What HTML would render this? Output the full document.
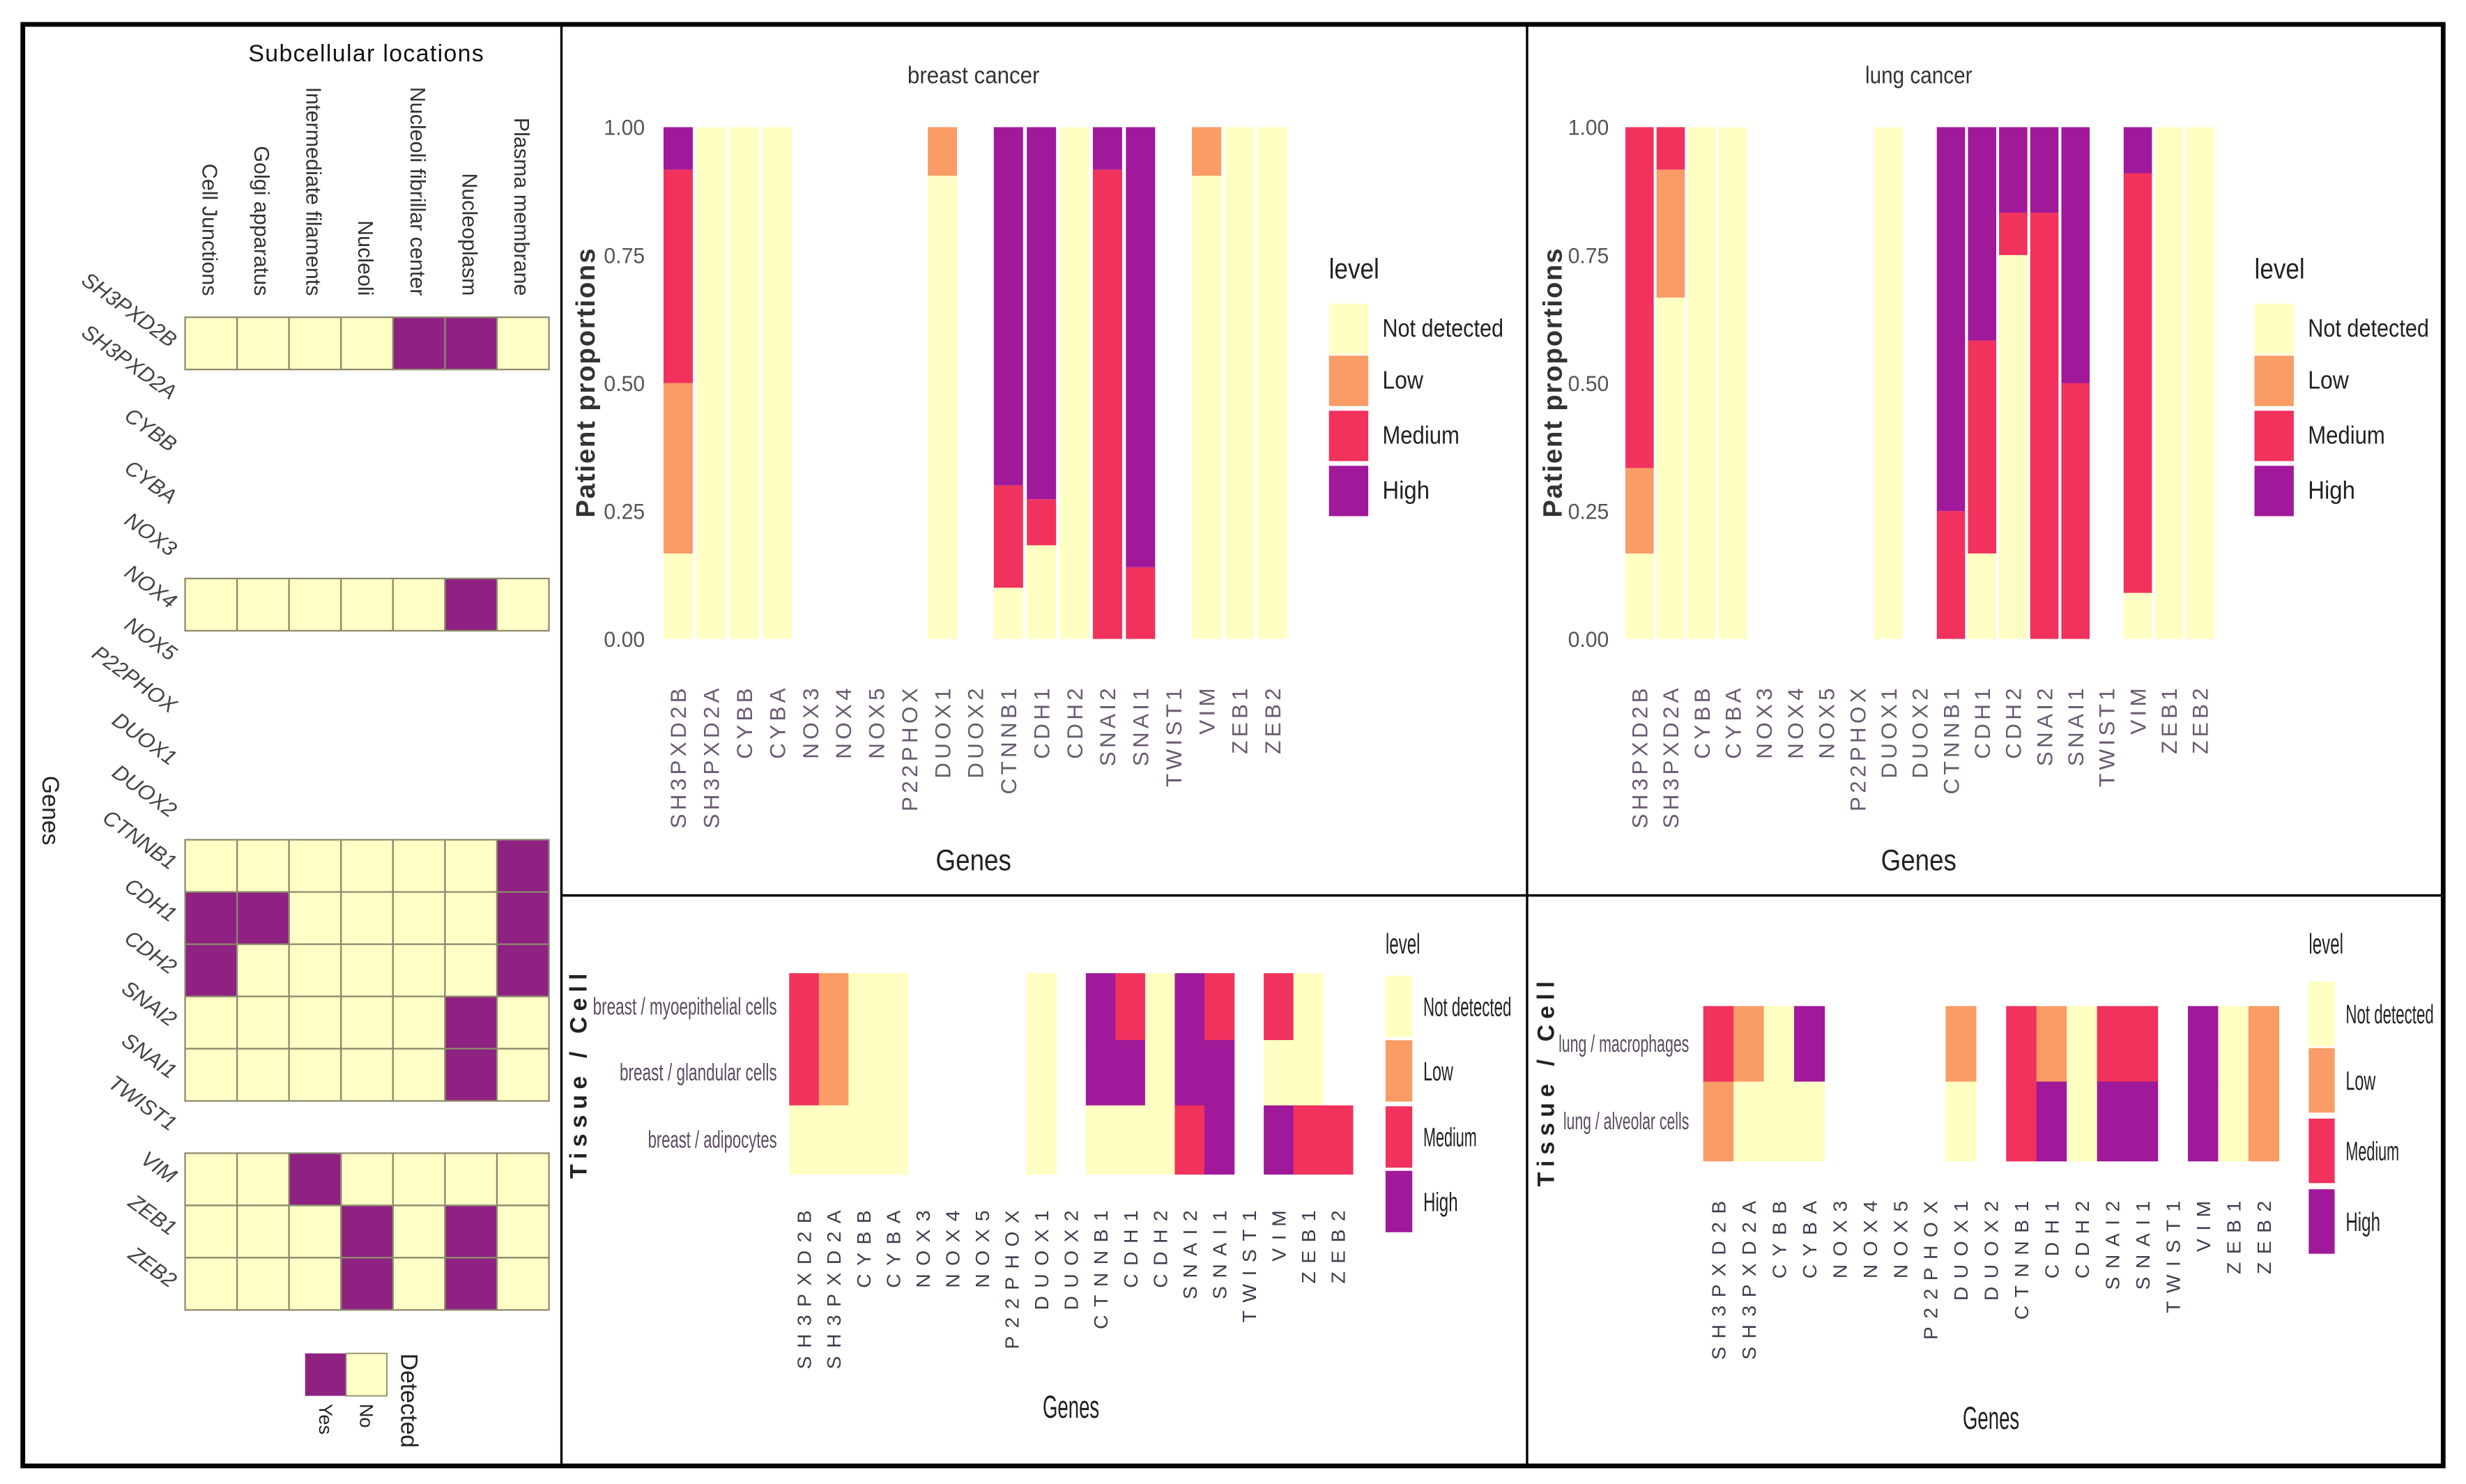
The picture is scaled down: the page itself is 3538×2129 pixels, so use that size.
<!DOCTYPE html>
<html><head><meta charset="utf-8">
<style>
html,body{margin:0;padding:0;background:#fff;}
svg{display:block;font-family:"Liberation Sans",sans-serif;}
</style></head>
<body>
<svg id="fig" width="3538" height="2129" viewBox="0 0 1568 943" preserveAspectRatio="none" xmlns="http://www.w3.org/2000/svg">
<rect x="0" y="0" width="1568" height="943" fill="#fff"/>
<g id="left"></g>
<g id="tb"></g>
<g id="tl"></g>
<g id="bb"></g>
<g id="bl"></g>
<rect x="14.5" y="15.5" width="1539" height="916" fill="none" stroke="#000" stroke-width="3"/>
<line x1="357" y1="15" x2="357" y2="932" stroke="#000" stroke-width="1.5"/>
<line x1="971" y1="15" x2="971" y2="932" stroke="#000" stroke-width="1.5"/>
<line x1="357" y1="569" x2="1553" y2="569" stroke="#000" stroke-width="1.5"/>
</svg>
<script>
const genes = ["SH3PXD2B","SH3PXD2A","CYBB","CYBA","NOX3","NOX4","NOX5","P22PHOX","DUOX1","DUOX2","CTNNB1","CDH1","CDH2","SNAI2","SNAI1","TWIST1","VIM","ZEB1","ZEB2"];
const locations = ["Cell Junctions","Golgi apparatus","Intermediate filaments","Nucleoli","Nucleoli fibrillar center","Nucleoplasm","Plasma membrane"];
// subcellular detection: null = no data row, 1 = Yes, 0 = No
const detected = [
 [0,0,0,0,1,1,0], null, null, null, null,
 [0,0,0,0,0,1,0], null, null, null, null,
 [0,0,0,0,0,0,1],
 [1,1,0,0,0,0,1],
 [1,0,0,0,0,0,1],
 [0,0,0,0,0,1,0],
 [0,0,0,0,0,1,0],
 null,
 [0,0,1,0,0,0,0],
 [0,0,0,1,0,1,0],
 [0,0,0,1,0,1,0]
];
const levels = ["Not detected","Low","Medium","High"];
const yTicks = [0,0.25,0.5,0.75,1];
const yTickLabels = ["0.00","0.25","0.50","0.75","1.00"];
// breast cancer proportions
const breastND   = [0.167,1,1,1,0,0,0,0,0.905,0,0.10,0.183,1,0,0,0,0.905,1,1];
const breastLow  = [0.333,0,0,0,0,0,0,0,0.095,0,0,0,0,0,0,0,0.095,0,0];
const breastMed  = [0.417,0,0,0,0,0,0,0,0,0,0.20,0.09,0,0.917,0.14,0,0,0,0];
const breastHigh = [0.083,0,0,0,0,0,0,0,0,0,0.70,0.727,0,0.083,0.86,0,0,0,0];
// lung cancer proportions
const lungND   = [0.167,0.667,1,1,0,0,0,0,1,0,0,0.167,0.75,0,0,0,0.09,1,1];
const lungLow  = [0.167,0.25,0,0,0,0,0,0,0,0,0,0,0,0,0,0,0,0,0];
const lungMed  = [0.666,0.083,0,0,0,0,0,0,0,0,0.25,0.416,0.083,0.833,0.5,0,0.82,0,0];
const lungHigh = [0,0,0,0,0,0,0,0,0,0,0.75,0.417,0.167,0.167,0.5,0,0.09,0,0];
// tissue levels: -1 none, 0 ND, 1 Low, 2 Medium, 3 High
const breastCells = ["breast / myoepithelial cells","breast / glandular cells","breast / adipocytes"];
const breastMyo    = [2,1,0,0,-1,-1,-1,-1,0,-1,3,2,0,3,2,-1,2,0,-1];
const breastGland  = [2,1,0,0,-1,-1,-1,-1,0,-1,3,3,0,3,3,-1,0,0,-1];
const breastAdipo  = [0,0,0,0,-1,-1,-1,-1,0,-1,0,0,0,2,3,-1,3,2,2];
const lungCells = ["lung / macrophages","lung / alveolar cells"];
const lungMacro = [2,1,0,3,-1,-1,-1,-1,1,-1,2,1,0,2,2,-1,3,0,1];
const lungAlv   = [1,0,0,0,-1,-1,-1,-1,0,-1,2,3,0,3,3,-1,3,0,1];

const COLORS = ["#FFFFC4","#F99C66","#F0325D","#A0199A"];
const NS = "http://www.w3.org/2000/svg";
function mk(parent, tag, attrs, text){
  const e = document.createElementNS(NS, tag);
  for (const k in attrs) e.setAttribute(k, attrs[k]);
  if (text !== undefined) e.textContent = text;
  parent.appendChild(e);
  return e;
}

/* ---------- left heatmap ---------- */
(function(){
  const g = document.getElementById('left');
  const x0 = 117.7, cw = 33.05, y0 = 201.6, rh = 33.2;
  const t = mk(g,'text',{x:233,y:39,'text-anchor':'middle','font-size':15,fill:'#111','letter-spacing':0.6},'Subcellular locations');
  
  
  locations.forEach((loc,j)=>{
    const cx = x0 + cw*(j+0.5) - 5.5;
    const e = mk(g,'text',{x:cx,y:188,'text-anchor':'end','font-size':13.5,fill:'#333',transform:`rotate(90 ${cx} 188)`},loc);
    
    
  });
  genes.forEach((gn,i)=>{
    const cy = y0 + rh*(i+0.5);
    const lx = 108, ly = cy + 3;
    const e = mk(g,'text',{x:lx,y:ly,'text-anchor':'end','font-size':13.5,fill:'#444','font-style':'italic',transform:`rotate(36 ${lx} ${ly})`},gn);
    
    
    const row = detected[i];
    if (!row) return;
    row.forEach((v,j)=>{
      const r = mk(g,'rect',{x:x0+cw*j,y:y0+rh*i,width:cw,height:rh,fill:v?'#8E2182':'#FFFFC6',stroke:'#8d8a6c','stroke-width':1});
      
      
    });
  });
  const gt = mk(g,'text',{x:27,y:515,'text-anchor':'middle','font-size':15,fill:'#222',transform:'rotate(90 27 515)'},'Genes');
  
  
  const ly = mk(g,'rect',{x:194,y:860,width:26,height:27,fill:'#8E2182'});
  
  
  const ln = mk(g,'rect',{x:220,y:860,width:26,height:27,fill:'#FFFFC6',stroke:'#8d8a6c','stroke-width':0.8});
  
  
  [['Yes',203],['No',229]].forEach(([s,x])=>{
    const e = mk(g,'text',{x:x,y:892,'font-size':12,fill:'#222',transform:`rotate(90 ${x} 892)`},s);
    
    
  });
  const dt = mk(g,'text',{x:255,y:860,'font-size':15,fill:'#222',transform:'rotate(90 255 860)'},'Detected');
  
  
})();

/* ---------- stacked bar panels ---------- */
function barPanel(id, P, nd, lo, me, hi, title){
  const g = document.getElementById(id);
  const yPx = v => P.y0 - v*(P.y0-P.y1);
  const xPx = i => P.bx + P.pitch*i;
  const tt = mk(g,'text',{x:P.tx,y:53,'text-anchor':'middle','font-size':15,fill:'#333',textLength:P.tl,lengthAdjust:'spacingAndGlyphs'},title);
  
  
  yTicks.forEach((v,k)=>{
    const e = mk(g,'text',{x:P.yl,y:yPx(v)+5,'text-anchor':'end','font-size':14,fill:'#555',textLength:26,lengthAdjust:'spacingAndGlyphs'},yTickLabels[k]);
    
    
  });
  const yt = mk(g,'text',{x:P.ytx,y:243,'text-anchor':'middle','font-size':17,'font-weight':'bold',fill:'#333','letter-spacing':0.8,transform:`rotate(-90 ${P.ytx} 243)`},'Patient proportions');
  
  
  const series = [nd,lo,me,hi];
  genes.forEach((gn,i)=>{
    let acc = 0;
    series.forEach((s,k)=>{
      const v = s[i];
      if (v>0){
        const r = mk(g,'rect',{x:xPx(i),y:yPx(acc+v),width:P.bw,height:yPx(acc)-yPx(acc+v),fill:COLORS[k]});
        
        
      }
      acc += v;
    });
    const cx = xPx(i)+P.bw/2+5;
    const e = mk(g,'text',{x:cx,y:435,'text-anchor':'end','font-size':14,fill:'#6a5a72','letter-spacing':2.3,transform:`rotate(-90 ${cx} 435)`},gn);
    
    
  });
  const xt = mk(g,'text',{x:P.tx,y:553,'text-anchor':'middle','font-size':19,fill:'#222',textLength:48,lengthAdjust:'spacingAndGlyphs'},'Genes');
  
  
  const lt = mk(g,'text',{x:P.lx,y:177,'font-size':18,fill:'#222',textLength:32,lengthAdjust:'spacingAndGlyphs'},'level');
  
  
  const keyY = [193,226,261,296];
  levels.forEach((lv,k)=>{
    const r = mk(g,'rect',{x:P.lx,y:keyY[k],width:25,height:32,fill:COLORS[k]});
    
    
    const e = mk(g,'text',{x:P.lx+34,y:keyY[k]+21,'font-size':16,fill:'#222',textLength:[77,26,49,30][k],lengthAdjust:'spacingAndGlyphs'},lv);
    
    
  });
}
barPanel('tb',{y0:406,y1:80.8,bx:421.9,pitch:21.0,bw:18.6,yl:410,ytx:378,tx:619,tl:84,lx:845},breastND,breastLow,breastMed,breastHigh,'breast cancer');
barPanel('tl',{y0:406,y1:80.8,bx:1033.5,pitch:19.8,bw:18,yl:1023,ytx:993,tx:1220,tl:68,lx:1433.5},lungND,lungLow,lungMed,lungHigh,'lung cancer');

/* ---------- tissue heatmaps ---------- */
function tissuePanel(id, P, cells, rows){
  const g = document.getElementById(id);
  rows.forEach((row,r)=>{
    row.forEach((v,i)=>{
      if (v<0) return;
      const rc = mk(g,'rect',{x:P.cx+P.pitch*i,y:P.ry[r],width:P.pitch+0.3,height:P.ry[r+1]-P.ry[r]+0.3,fill:COLORS[v]});
      
      
    });
    const cy = (P.ry[r]+P.ry[r+1])/2+5;
    const e = mk(g,'text',{x:P.rl,y:cy,'text-anchor':'end','font-size':15,fill:'#5a4a60',textLength:P.rlw[r],lengthAdjust:'spacingAndGlyphs'},cells[r]);
    
    
  });
  genes.forEach((gn,i)=>{
    const cx = P.cx+P.pitch*(i+0.5)+4.5;
    const e = mk(g,'text',{x:cx,y:P.xl,'text-anchor':'end','font-size':12.5,fill:'#3e3e50','letter-spacing':5.1,transform:`rotate(-90 ${cx} ${P.xl})`},gn);
    
    
  });
  const yt = mk(g,'text',{x:P.ytx,y:P.yty,'text-anchor':'middle','font-size':15,'font-weight':'bold',fill:'#222','letter-spacing':3.6,transform:`rotate(-90 ${P.ytx} ${P.yty})`},'Tissue / Cell');
  
  
  const xt = mk(g,'text',{x:P.gx,y:P.gy,'text-anchor':'middle','font-size':20,fill:'#222',textLength:36,lengthAdjust:'spacingAndGlyphs'},'Genes');
  
  
  const lt = mk(g,'text',{x:P.lx,y:P.lty,'font-size':18,fill:'#222',textLength:22,lengthAdjust:'spacingAndGlyphs'},'level');
  
  
  levels.forEach((lv,k)=>{
    const r = mk(g,'rect',{x:P.lx,y:P.ky[k],width:P.kw,height:P.kh,fill:COLORS[k]});
    
    
    const e = mk(g,'text',{x:P.lx+P.kw+7,y:P.ky[k]+P.kh/2+6,'font-size':17,fill:'#222',textLength:[56,19,34,22][k],lengthAdjust:'spacingAndGlyphs'},lv);
    
    
  });
}
tissuePanel('bb',{cx:501.8,pitch:18.86,ry:[618.4,660.9,702.4,746.1],rl:494,rlw:[117,100,82],xl:764,ytx:373,yty:682,gx:681,gy:901,lx:881,lty:606,ky:[620,661,703,744],kw:17,kh:39},breastCells,[breastMyo,breastGland,breastAdipo]);
tissuePanel('bl',{cx:1083,pitch:19.26,ry:[639.3,687.3,737.7],rl:1074,rlw:[83,80],xl:758,ytx:988,yty:687,gx:1266,gy:908,lx:1468,lty:606,ky:[623.7,666,710.8,755.7],kw:16.5,kh:41},lungCells,[lungMacro,lungAlv]);
</script>
</body></html>
